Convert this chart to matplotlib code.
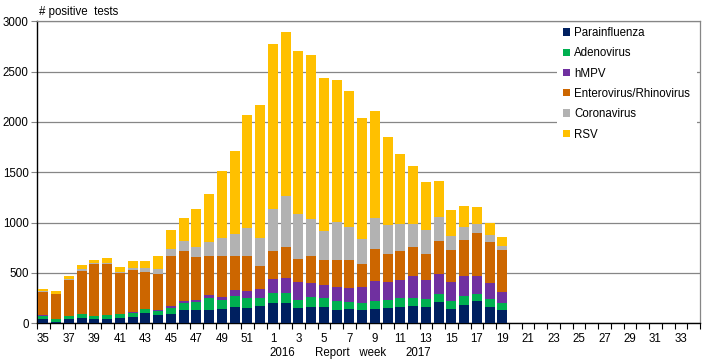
import matplotlib
matplotlib.use("Agg")
import matplotlib.pyplot as plt
from matplotlib.patches import Patch, Rectangle
import numpy as np

plt.rcParams['font.family'] = ['Liberation Sans', 'DejaVu Sans']

weeks = list(range(35, 53)) + list(range(1, 35))
week_labels = [str(w) if i % 2 == 0 else "" for i, w in enumerate(weeks)]

# values for weeks 35..52 (2016) and 1..19 (2017)
parainfluenza = [43, 17, 43, 53, 43, 43, 53, 63, 103, 83, 93, 133, 133, 133, 142, 166, 156, 172,
                 202, 202, 152, 162, 162, 132, 142, 132, 142, 152, 162, 172, 162, 212, 142, 182, 222, 162, 132]
adenovirus = [34, 23, 30, 40, 30, 37, 40, 37, 37, 40, 60, 70, 80, 120, 90, 106, 99, 83,
              99, 99, 80, 100, 90, 90, 70, 70, 80, 80, 90, 80, 80, 79, 80, 90, 69, 80, 70]
hmpv = [6, 3, 0, 0, 0, 0, 0, 13, 0, 10, 20, 20, 20, 30, 33, 62, 66, 89,
        136, 153, 182, 139, 129, 139, 139, 159, 198, 179, 182, 218, 192, 202, 189, 198, 179, 159, 109]
enterovirus = [230, 250, 360, 430, 520, 513, 410, 420, 373, 360, 500, 500, 430, 390, 404, 335, 348, 226,
               281, 304, 225, 268, 248, 268, 278, 228, 318, 278, 284, 288, 255, 325, 317, 358, 427, 407, 417]
coronavirus = [10, 3, 10, 17, 7, 10, 10, 20, 40, 47, 70, 90, 90, 130, 182, 222, 281, 281,
               418, 510, 450, 367, 288, 381, 328, 249, 312, 288, 272, 232, 241, 238, 143, 129, 93, 69, 40]
rsv = [20, 20, 30, 43, 33, 47, 47, 70, 70, 133, 180, 230, 380, 480, 662, 821, 1119, 1318,
       1642, 1626, 1616, 1629, 1520, 1407, 1351, 1202, 1059, 874, 692, 573, 474, 358, 255, 208, 165, 120, 90]

series = [
    ("Parainfluenza", parainfluenza, "#002060"),
    ("Adenovirus", adenovirus, "#00B050"),
    ("hMPV", hmpv, "#7030A0"),
    ("Enterovirus/Rhinovirus", enterovirus, "#CC6600"),
    ("Coronavirus", coronavirus, "#B2B2B2"),
    ("RSV", rsv, "#FFC000"),
]

fig = plt.figure(figsize=(7.11, 3.64), dpi=100)
ax = fig.add_axes([37/711, 1 - 323.3/364, (700-37)/711, (323.3-21.3)/364])

n = len(parainfluenza)
x = np.arange(n)
bottom = np.zeros(n)
for name, vals, col in series:
    v = np.array(vals, dtype=float)
    ax.bar(x, v, bottom=bottom, width=0.78, color=col, zorder=3, linewidth=0)
    bottom += v

ax.set_xlim(-0.5, len(weeks) - 0.5)
ax.set_ylim(0, 3000)
ax.set_yticks(range(0, 3001, 500))
ax.set_yticklabels([str(v) for v in range(0, 3001, 500)], fontsize=8.3)
ax.yaxis.grid(True, color="#868686", linewidth=0.9, zorder=0)
ax.set_axisbelow(True)

ax.set_xticks(np.arange(len(weeks)))
ax.set_xticklabels(week_labels, fontsize=8.3)
ax.tick_params(axis='x', which='major', length=0, pad=7)
ax.set_xticks(np.arange(len(weeks) + 1) - 0.5, minor=True)
ax.tick_params(axis='x', which='minor', length=4, width=0.8, color='black', direction='out')
ax.tick_params(axis='y', length=4, width=0.8, color='#868686', pad=2)

for s in ['left', 'bottom']:
    ax.spines[s].set_color('black')
    ax.spines[s].set_linewidth(1.0)
for s in ['top', 'right']:
    ax.spines[s].set_color('#868686')
    ax.spines[s].set_linewidth(0.9)

# white area behind the legend covering gridlines
ax.add_patch(Rectangle(((557-37)/663, (323.3-160)/302), (697-557)/663, (160-24)/302,
                       transform=ax.transAxes, facecolor='white', edgecolor='none', zorder=1))

handles = [Patch(facecolor=c, edgecolor='none', label=nm) for nm, _, c in series]
leg = fig.legend(handles=handles, loc='upper left', bbox_to_anchor=(563/711, 1 - 27/364),
                 frameon=False, fontsize=8.3, handlelength=0.6, handleheight=0.6,
                 handletextpad=0.35, labelspacing=0.72, borderpad=0, borderaxespad=0)

fig.text(39/711, 1 - 12/364, "# positive  tests", fontsize=8.3, va='center', ha='left')
fig.text(282/711, 1 - 353/364, "2016", fontsize=8.3, va='center', ha='center')
fig.text(351/711, 1 - 353/364, "Report   week", fontsize=8.3, va='center', ha='center')
fig.text(418/711, 1 - 353/364, "2017", fontsize=8.3, va='center', ha='center')

fig.savefig("out.png", dpi=100)
